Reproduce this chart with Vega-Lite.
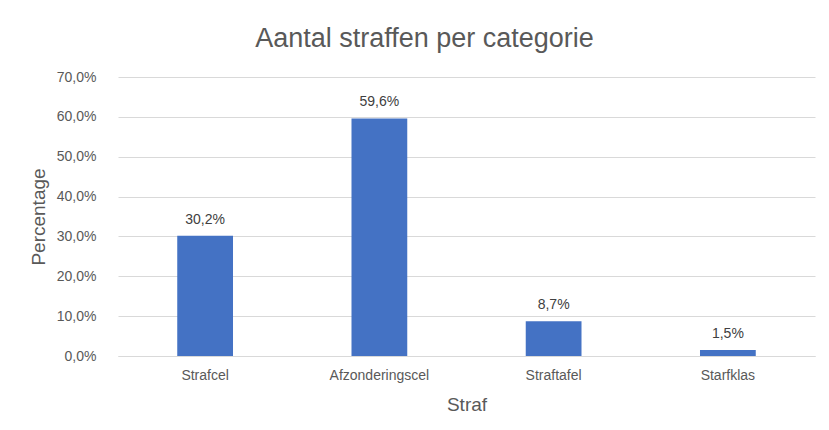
{
  "$schema": "https://vega.github.io/schema/vega-lite/v6.json",
  "autosize": {"type": "none"},
  "padding": {"left": 118, "top": 77, "right": 14, "bottom": 74},
  "width": 697,
  "height": 279,
  "background": "white",
  "title": {
    "text": "Aantal straffen per categorie",
    "anchor": "middle",
    "frame": "group",
    "dx": -42,
    "offset": 17,
    "fontSize": 27,
    "font": "Liberation Sans",
    "fontWeight": "normal",
    "color": "#595959"
  },
  "config": {
    "locale": {"number": {"decimal": ",", "thousands": ".", "grouping": [3], "currency": ["€", ""]}},
    "view": {"stroke": null},
    "font": "Liberation Sans"
  },
  "data": {
    "values": [
      {"Straf": "Strafcel", "Percentage": 0.302},
      {"Straf": "Afzonderingscel", "Percentage": 0.596},
      {"Straf": "Straftafel", "Percentage": 0.087},
      {"Straf": "Starfklas", "Percentage": 0.015}
    ]
  },
  "encoding": {
    "x": {
      "field": "Straf",
      "type": "nominal",
      "sort": null,
      "scale": {"paddingInner": 0.68, "paddingOuter": 0.34},
      "axis": {
        "title": "Straf",
        "labelAngle": 0,
        "labelFontSize": 14,
        "labelColor": "#595959",
        "labelPadding": 12,
        "ticks": false,
        "domainColor": "#D9D9D9",
        "domainWidth": 1,
        "titleFontSize": 19,
        "titleFontWeight": "normal",
        "titleColor": "#595959",
        "titlePadding": 13
      }
    },
    "y": {
      "field": "Percentage",
      "type": "quantitative",
      "scale": {"domain": [0, 0.7], "nice": false},
      "axis": {
        "title": "Percentage",
        "format": ".1%",
        "values": [0, 0.1, 0.2, 0.3, 0.4, 0.5, 0.6, 0.7],
        "labelOverlap": false,
        "labelFontSize": 14,
        "labelColor": "#595959",
        "labelPadding": 22,
        "ticks": false,
        "domain": false,
        "gridColor": "#D9D9D9",
        "gridWidth": 1,
        "titleFontSize": 19,
        "titleFontWeight": "normal",
        "titleColor": "#595959",
        "titlePadding": 8
      }
    }
  },
  "layer": [
    {"mark": {"type": "bar", "color": "#4472C4"}},
    {
      "mark": {"type": "text", "dy": -16, "fontSize": 14, "color": "#404040", "font": "Liberation Sans"},
      "encoding": {"text": {"field": "Percentage", "type": "quantitative", "format": ".1%"}}
    }
  ]
}
